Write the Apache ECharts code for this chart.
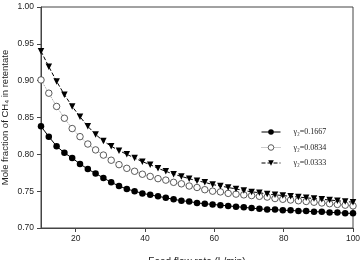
<!DOCTYPE html>
<html>
<head>
<meta charset="utf-8">
<script src="https://cdn.jsdelivr.net/npm/echarts@6/dist/echarts.min.js"></script>
<style>html,body{margin:0;padding:0;background:#fff}#c{width:361px;height:260px}</style>
</head>
<body>
<div id="c"></div>
<script>
var xValues = [10, 12.25, 14.5, 16.75, 19, 21.25, 23.5, 25.75, 28, 30.25, 32.5, 34.75, 37, 39.25, 41.5, 43.75, 46, 48.25, 50.5, 52.75, 55, 57.25, 59.5, 61.75, 64, 66.25, 68.5, 70.75, 73, 75.25, 77.5, 79.75, 82, 84.25, 86.5, 88.75, 91, 93.25, 95.5, 97.75, 100];
var seriesNames = ['\u03b3\u2082=0.1667', '\u03b3\u2082=0.0834', '\u03b3\u2082=0.0333'];
var y1667 = [0.838,0.824,0.811,0.802,0.795,0.787,0.780,0.774,0.768,0.762,0.757,0.753,0.750,0.747,0.745,0.743,0.741,0.739,0.737,0.736,0.734,0.733,0.732,0.731,0.730,0.729,0.728,0.727,0.726,0.725,0.725,0.724,0.724,0.723,0.723,0.722,0.722,0.721,0.721,0.720,0.720];
var y0834 = [0.901,0.883,0.865,0.849,0.835,0.824,0.814,0.806,0.799,0.792,0.786,0.781,0.777,0.773,0.770,0.767,0.765,0.762,0.760,0.757,0.755,0.752,0.750,0.749,0.747,0.746,0.745,0.744,0.743,0.742,0.740,0.739,0.738,0.737,0.736,0.735,0.734,0.733,0.732,0.731,0.730];
var y0333 = [0.940,0.919,0.899,0.881,0.865,0.851,0.838,0.827,0.818,0.811,0.805,0.800,0.795,0.790,0.786,0.781,0.777,0.773,0.770,0.767,0.764,0.762,0.759,0.757,0.755,0.753,0.751,0.749,0.748,0.746,0.745,0.744,0.743,0.742,0.741,0.740,0.739,0.738,0.737,0.736,0.735];
var xTicks = [20, 40, 60, 80, 100];
var yTicks = [0.70, 0.75, 0.80, 0.85, 0.90, 0.95, 1.00];
var xTitle = 'Feed flow rate (L/min)';
var yTitle = 'Mole fraction of CH\u2084 in retentate';

function pairs(ys){ return xValues.map(function(x,i){ return [x, ys[i]]; }); }

var chart = echarts.init(document.getElementById('c'), null, {renderer:'canvas'});
var axisColor = '#444';
var txt = '#222';
chart.setOption({
  animation: false,
  backgroundColor: '#fff',
  grid: {left: 41, right: 8, top: 7, bottom: 32, containLabel: false, outerBoundsMode: 'none',
    show: true, borderColor: axisColor, borderWidth: 1, backgroundColor: 'transparent'},
  legend: {
    orient: 'vertical', left: 256, top: 123, itemWidth: 19, itemHeight: 7, itemGap: 7.5,
    data: seriesNames,
    lineStyle: {width: 1},
    itemStyle: {borderWidth: 0.8},
    textStyle: {fontFamily: 'Liberation Serif', fontSize: 8, color: txt, padding: [0,0,0,8]}
  },
  xAxis: {
    type: 'value', min: 10, max: 100,
    name: xTitle, nameLocation: 'middle', nameGap: 29, nameMoveOverlap: false,
    nameTextStyle: {fontFamily: 'Liberation Sans', fontSize: 10, color: txt},
    axisLine: {show: true, lineStyle: {color: axisColor}},
    axisTick: {show: true, length: 4, customValues: xTicks, lineStyle: {color: axisColor}},
    axisLabel: {customValues: xTicks, margin: 6, fontFamily: 'Liberation Sans', fontSize: 8.5, color: txt},
    splitLine: {show: false}
  },
  yAxis: {
    type: 'value', min: 0.70, max: 1.00, interval: 0.05,
    name: yTitle, nameLocation: 'middle', nameGap: 31, nameRotate: 90, nameMoveOverlap: false,
    nameTextStyle: {fontFamily: 'Liberation Sans', fontSize: 9.5, color: txt},
    axisLine: {show: true, lineStyle: {color: axisColor}},
    axisTick: {show: true, length: 4, customValues: yTicks, lineStyle: {color: axisColor}},
    axisLabel: {customValues: yTicks, margin: 7, fontFamily: 'Liberation Sans', fontSize: 8.5, color: txt,
      formatter: function(v){ return Number(v).toFixed(2); }},
    splitLine: {show: false}
  },
  series: [
    {name: seriesNames[0], type: 'line', data: pairs(y1667), symbol: 'circle', symbolSize: 6.5,
     itemStyle: {color: '#000'}, lineStyle: {color: '#000', width: 1, type: 'solid'}},
    {name: seriesNames[1], type: 'line', data: pairs(y0834), symbol: 'circle', symbolSize: 6.5,
     itemStyle: {color: '#fff', borderColor: '#333', borderWidth: 0.8}, lineStyle: {color: '#999', width: 1, type: 'dotted'}},
    {name: seriesNames[2], type: 'line', data: pairs(y0333), symbol: 'triangle', symbolRotate: 180, symbolSize: 6.5,
     itemStyle: {color: '#000'}, lineStyle: {color: '#000', width: 1, type: [4,2]}}
  ]
});
</script>
</body>
</html>
